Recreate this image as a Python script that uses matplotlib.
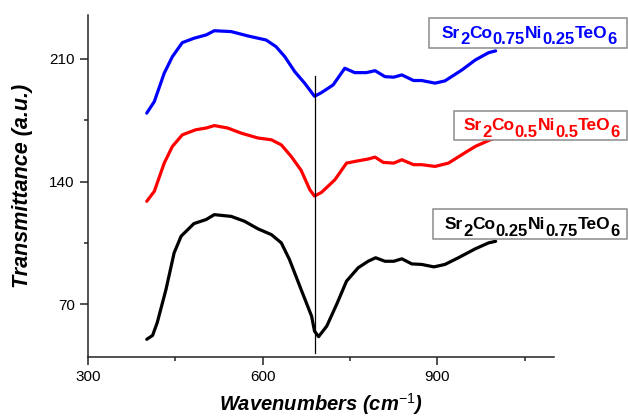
import matplotlib
matplotlib.use("Agg")
import matplotlib.pyplot as plt
from matplotlib.patches import Rectangle
from matplotlib.text import Annotation
from matplotlib.ticker import MultipleLocator

plt.rcParams['font.family'] = ['Liberation Sans', 'DejaVu Sans']
plt.rcParams['mathtext.fontset'] = 'custom'
plt.rcParams['mathtext.rm'] = 'Liberation Sans'
plt.rcParams['mathtext.it'] = 'Liberation Sans:italic:bold'

# wavenumber / transmittance
x_black = [401, 411, 419, 434, 448, 460, 482, 503, 517, 546, 569, 592, 615, 632, 646, 666,
           684, 689, 696, 710, 727, 744, 764, 781, 794, 810, 825, 839, 856, 873, 894, 913,
           936, 965, 988, 1000]
y_black = [50.1, 52.3, 59.6, 78.5, 99.4, 108.9, 116.1, 118.4, 121.2, 120.2, 117.4, 113.1, 109.8, 105.1, 95.6, 78.5,
           63.3, 54.8, 51.6, 57.6, 70, 83.3, 90.9, 94.6, 96.6, 94.6, 94.6, 96, 93.1, 92.8, 91.4, 92.8,
           96.6, 101.7, 105.1, 106]

x_red = [401, 414, 431, 445, 462, 485, 503, 517, 540, 563, 592, 615, 632, 649, 666, 681, 689,
         701, 724, 744, 764, 781, 793, 807, 825, 839, 859, 873, 896, 919, 942, 965, 988, 1000]
y_red = [128.8, 134.5, 150.6, 160.1, 166.7, 169.6, 170.6, 172, 170.6, 167.7, 164.9, 163.9, 161, 154.4, 146.5, 135.4, 131.8,
         133.9, 141.1, 150.6, 151.9, 152.9, 154, 151, 150.6, 152.5, 149.7, 149.7, 148.7, 150.6, 155.4, 160.1, 163.5, 165]

x_blue = [401, 414, 431, 445, 462, 482, 503, 517, 546, 575, 606, 623, 638, 655, 672, 689,
          701, 721, 741, 758, 778, 793, 810, 825, 839, 859, 873, 896, 913, 942, 965, 988, 1000]
y_blue = [179.1, 185.7, 201.9, 211.3, 219.3, 221.8, 223.7, 226.1, 225.6, 223.1, 220.8, 217, 211.3, 202.8, 196.2, 188.7,
          190.8, 195.2, 204.7, 202.2, 202.2, 203.3, 199.9, 199.6, 200.9, 197.7, 197.7, 196.2, 197.5, 203.7, 209.4, 213.6, 214.6]

peak_x = 689
peak_y = [42, 200]

# formula pieces: (text, is_subscript)
formula_blue = [('Sr', 0), ('2', 1), ('Co', 0), ('0.75', 1), ('Ni', 0), ('0.25', 1), ('TeO', 0), ('6', 1)]
formula_red = [('Sr', 0), ('2', 1), ('Co', 0), ('0.5', 1), ('Ni', 0), ('0.5', 1), ('TeO', 0), ('6', 1)]
formula_black = [('Sr', 0), ('2', 1), ('Co', 0), ('0.25', 1), ('Ni', 0), ('0.75', 1), ('TeO', 0), ('6', 1)]

W, H = 628, 420
fig = plt.figure(figsize=(W / 100, H / 100), dpi=100)
ax = fig.add_axes([0.140, 0.150, 0.742, 0.814])

ax.plot(x_black, y_black, color='black', lw=2.3, solid_joinstyle='round', solid_capstyle='round')
ax.plot(x_red, y_red, color='red', lw=2.3, solid_joinstyle='round', solid_capstyle='round')
ax.plot(x_blue, y_blue, color='blue', lw=2.3, solid_joinstyle='round', solid_capstyle='round')
ax.plot([peak_x, peak_x], peak_y, color='black', lw=0.9)

ax.set_xlim(300, 1100)
ax.set_ylim(40, 235)
ax.xaxis.set_major_locator(MultipleLocator(300))
ax.xaxis.set_minor_locator(MultipleLocator(150))
ax.yaxis.set_major_locator(MultipleLocator(70))
ax.yaxis.set_minor_locator(MultipleLocator(35))

for s in ['top', 'right']:
    ax.spines[s].set_visible(False)
for s in ['left', 'bottom']:
    ax.spines[s].set_linewidth(1.1)
    ax.spines[s].set_color('#222222')
ax.tick_params(which='major', length=6, width=1.1, labelsize=11, color='#222222')
ax.tick_params(which='minor', length=3, width=1.1, color='#222222')

ax.set_xlabel(r'Wavenumbers (cm$^{\mathit{-1}}$)', fontsize=14.5, fontweight='bold', style='italic', labelpad=5)
ax.set_ylabel('Transmittance (a.u.)', fontsize=15.5, fontweight='bold', style='italic', labelpad=12)


def draw_formula(pieces, color, x_px, base_px, box):
    bx0, by0, bx1, by1 = box
    fig.add_artist(Rectangle((bx0 / W, 1 - by1 / H), (bx1 - bx0) / W, (by1 - by0) / H,
                             transform=fig.transFigure, fc='white', ec='#8c8c8c', lw=1.1, zorder=2))
    first = fig.text(x_px / W, 1 - base_px / H, pieces[0][0], color=color, fontsize=12.5,
                     fontweight='bold', va='baseline', ha='left', zorder=3)
    prev = first
    for txt, sub in pieces[1:]:
        a = Annotation(txt, xy=(1, 0), xycoords=(prev, first), xytext=(0, -4.5 if sub else 0),
                       textcoords='offset points', color=color, fontsize=12 if sub else 12.5,
                       fontweight='bold', va='bottom', ha='left', zorder=3)
        fig.add_artist(a)
        prev = a


draw_formula(formula_blue, 'blue', 442, 37.5, (429, 18, 627, 48))
draw_formula(formula_red, 'red', 464, 130.5, (454, 111, 627, 140))
draw_formula(formula_black, 'black', 445, 229.5, (433, 209, 627, 239))

fig.savefig('out.png', dpi=100)
